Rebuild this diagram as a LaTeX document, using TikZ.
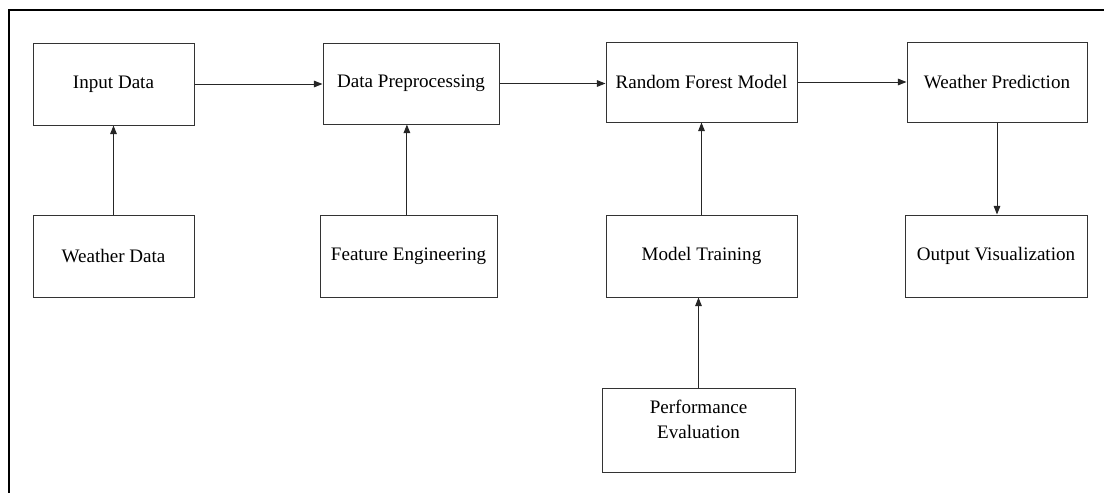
\documentclass[tikz,border=0pt]{standalone}
\usepackage{fontspec}
\setmainfont{Liberation Serif}
\usetikzlibrary{arrows.meta}
\begin{document}
\begin{tikzpicture}[
 x=0.75pt,
 y=-0.75pt,
 line width=0.75pt,
 stage/.style={draw=black!80,minimum height=61.5pt,align=center,inner sep=2pt,
  font=\fontsize{14.3}{18.75}\selectfont},
 flow/.style={-{Triangle[length=6.5pt,width=5pt]},black!85}
]
\useasboundingbox (0,0) rectangle (1104,493);
\draw[line width=1pt] (9,493) -- (9,10) -- (1104,10);
\begin{scope}
\node[stage,minimum width=120.75pt] (inp) at (113.5,84) {Input Data};
\node[stage,minimum width=132pt,minimum height=60.75pt] (prep) at (411,83.5) {Data Preprocessing};
\node[stage,minimum width=143.25pt,minimum height=60pt] (rfm) at (701.5,82) {Random Forest Model};
\node[stage,minimum width=135pt,minimum height=60pt] (pred) at (997,82) {Weather Prediction};
\end{scope}
\begin{scope}
\node[stage,minimum width=120.75pt] (wdata) at (113.5,256) {Weather Data};
\node[stage,minimum width=132.75pt] (feat) at (408.5,256) {Feature Engineering};
\node[stage,minimum width=143.25pt] (train) at (701.5,256) {Model Training};
\node[stage,minimum width=136.5pt] (outv) at (996,256) {Output Visualization};
\node[stage,minimum width=144.75pt,minimum height=63pt] (perf) at (698.5,430) {Performance\\Evaluation\\[-9pt]\strut};
\end{scope}
\draw[flow] (inp.east) -- (inp.east -| prep.west);
\draw[flow] (prep.east) -- (prep.east -| rfm.west);
\draw[flow] (rfm.east) -- (rfm.east -| pred.west);
\draw[flow] (wdata.north) -- (wdata.north |- inp.south);
\draw[flow] ([xshift=-1.2pt]feat.north) -- ([xshift=-1.2pt]feat.north |- prep.south);
\draw[flow] (train.north) -- (train.north |- rfm.south);
\draw[flow] (perf.north) -- (perf.north |- train.south);
\draw[flow] (pred.south) -- (pred.south |- outv.north);
\end{tikzpicture}
\end{document}
